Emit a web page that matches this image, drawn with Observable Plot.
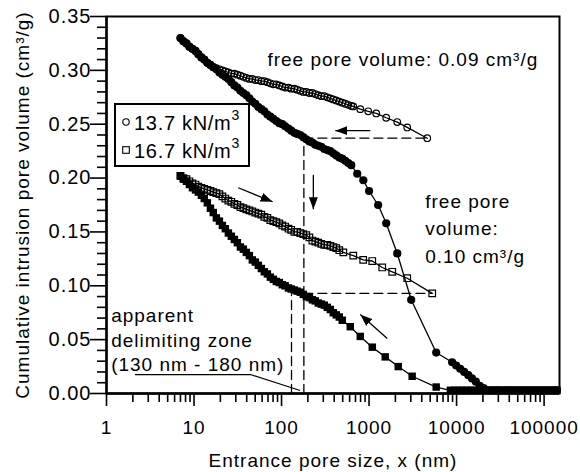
<!DOCTYPE html>
<html>
<head>
<meta charset="utf-8">
<script src="https://cdn.jsdelivr.net/npm/d3@7"></script>
<script src="https://cdn.jsdelivr.net/npm/@observablehq/plot@0.6"></script>
<style>
  body { margin: 0; background: #fff; }
  #wrap { position: relative; width: 580px; height: 472px; font-family: "Liberation Sans", Arial, Helvetica, sans-serif; }
  #legend { position: absolute; left: 114px; top: 103px; width: 132px; height: 60px; border: 2px solid #000; background: #fff; }
  #legend svg { display: block; }
</style>
</head>
<body>
<div id="wrap"><div id="chart"></div><div id="legend"></div></div>
<script>
// ---------------- data ----------------
// 13.7 kN/m3 – intrusion (filled circles)
const in137X = [7.0, 7.57, 8.2, 8.86, 9.6, 10.4, 11.2, 12.15, 13.1, 14.2, 15.4, 16.6, 18.0, 19.5, 21.1, 22.8, 24.7, 26.7, 28.9, 31.3, 33.9, 36.6, 39.6, 42.9, 46.4, 50.2, 54.3, 58.8, 63.6, 68.9, 74.5, 80.6, 87.2, 94.4, 102, 110, 120, 129, 140, 151, 164, 177, 192, 208, 225, 243, 263, 285, 308, 333, 361, 390, 422, 457, 494, 535, 579, 626, 733, 860, 1000, 1270, 1570, 2100, 3030, 5850, 8900, 9900, 11000, 12200, 13600, 15000, 16600, 18400, 20400, 22500, 25000, 28000, 31000, 35000, 39000, 43000, 48000, 54000, 60000, 67000, 75000, 84000, 94000, 105000, 117000, 130000, 140000];
const in137Y = [0.330, 0.327, 0.325, 0.322, 0.320, 0.318, 0.315, 0.312, 0.310, 0.307, 0.305, 0.303, 0.301, 0.298, 0.296, 0.294, 0.292, 0.289, 0.286, 0.284, 0.281, 0.279, 0.277, 0.274, 0.271, 0.269, 0.266, 0.264, 0.262, 0.259, 0.257, 0.255, 0.253, 0.251, 0.250, 0.248, 0.246, 0.244, 0.242, 0.241, 0.240, 0.238, 0.236, 0.234, 0.233, 0.231, 0.230, 0.229, 0.227, 0.226, 0.225, 0.223, 0.221, 0.219, 0.218, 0.216, 0.214, 0.212, 0.204, 0.198, 0.188, 0.175, 0.158, 0.130, 0.087, 0.038, 0.029, 0.026, 0.023, 0.020, 0.017, 0.014, 0.011, 0.007, 0.005, 0.003, 0.003, 0.003, 0.003, 0.003, 0.003, 0.003, 0.003, 0.003, 0.003, 0.003, 0.003, 0.003, 0.003, 0.003, 0.003, 0.003, 0.003];
// 13.7 kN/m3 – extrusion (open circles)
const ex137X = [7.0, 7.57, 8.2, 8.86, 9.6, 10.4, 11.2, 12.15, 13.1, 14.2, 15.4, 16.6, 18.0, 19.5, 21.1, 22.8, 24.7, 26.7, 28.9, 31.3, 33.9, 36.6, 39.6, 42.9, 46.4, 50.2, 54.3, 58.8, 63.6, 68.9, 74.5, 80.6, 87.2, 94.4, 102, 110, 120, 129, 140, 151, 164, 177, 192, 208, 225, 243, 263, 285, 308, 333, 361, 390, 422, 457, 494, 535, 579, 626, 660, 794, 979, 1208, 1570, 2100, 2730, 4620];
const ex137Y = [0.330, 0.327, 0.325, 0.322, 0.320, 0.318, 0.315, 0.312, 0.310, 0.307, 0.305, 0.303, 0.302, 0.301, 0.300, 0.299, 0.298, 0.297, 0.297, 0.296, 0.295, 0.294, 0.293, 0.292, 0.292, 0.291, 0.291, 0.290, 0.290, 0.289, 0.288, 0.287, 0.287, 0.286, 0.285, 0.284, 0.284, 0.283, 0.283, 0.282, 0.281, 0.280, 0.280, 0.279, 0.279, 0.278, 0.277, 0.276, 0.276, 0.275, 0.274, 0.273, 0.272, 0.271, 0.270, 0.269, 0.268, 0.267, 0.2665, 0.264, 0.262, 0.260, 0.256, 0.252, 0.247, 0.237];
// 16.7 kN/m3 – intrusion (filled squares)
const in167X = [7.0, 7.57, 8.2, 8.86, 9.6, 10.4, 11.2, 12.15, 13.1, 14.2, 15.4, 16.6, 18.0, 19.5, 21.1, 22.8, 24.7, 26.7, 28.9, 31.3, 33.9, 36.6, 39.6, 42.9, 46.4, 50.2, 54.3, 58.8, 63.6, 68.9, 74.5, 80.6, 87.2, 94.4, 102, 110, 120, 129, 140, 151, 164, 177, 192, 208, 225, 243, 263, 285, 308, 333, 361, 390, 422, 457, 494, 610, 794, 1088, 1530, 2155, 3110, 5850, 8500, 9500, 10500, 11700, 13000, 14500, 16000, 18000, 20000, 22500, 25000, 28000, 31000, 35000, 39000, 43000, 48000, 54000, 60000, 67000, 75000, 84000, 94000, 105000, 117000, 130000, 140000];
const in167Y = [0.202, 0.199, 0.197, 0.194, 0.191, 0.189, 0.187, 0.184, 0.181, 0.177, 0.172, 0.168, 0.163, 0.160, 0.156, 0.153, 0.149, 0.146, 0.143, 0.140, 0.136, 0.134, 0.131, 0.128, 0.124, 0.122, 0.119, 0.116, 0.113, 0.111, 0.108, 0.106, 0.104, 0.103, 0.101, 0.100, 0.098, 0.097, 0.096, 0.095, 0.094, 0.092, 0.090, 0.089, 0.087, 0.086, 0.084, 0.083, 0.082, 0.080, 0.078, 0.075, 0.073, 0.071, 0.068, 0.062, 0.053, 0.043, 0.034, 0.025, 0.016, 0.006, 0.003, 0.003, 0.003, 0.003, 0.003, 0.003, 0.003, 0.003, 0.003, 0.003, 0.003, 0.003, 0.003, 0.003, 0.003, 0.003, 0.003, 0.003, 0.003, 0.003, 0.003, 0.003, 0.003, 0.003, 0.003, 0.003, 0.003];
// 16.7 kN/m3 – extrusion (open squares)
const ex167X = [7.0, 7.57, 8.2, 8.86, 9.6, 10.4, 11.2, 12.15, 13.1, 14.2, 15.4, 16.6, 18.0, 19.5, 21.1, 22.8, 24.7, 26.7, 28.9, 31.3, 33.9, 36.6, 39.6, 42.9, 46.4, 50.2, 54.3, 58.8, 63.6, 68.9, 74.5, 80.6, 87.2, 94.4, 102, 110, 120, 129, 140, 151, 164, 177, 192, 208, 225, 243, 263, 285, 308, 333, 361, 390, 422, 457, 508, 660, 857, 1088, 1415, 1840, 2730, 5270];
const ex167Y = [0.202, 0.200, 0.199, 0.197, 0.195, 0.194, 0.192, 0.191, 0.190, 0.189, 0.188, 0.187, 0.186, 0.185, 0.183, 0.181, 0.179, 0.178, 0.176, 0.175, 0.173, 0.172, 0.171, 0.170, 0.169, 0.168, 0.167, 0.166, 0.164, 0.163, 0.161, 0.160, 0.159, 0.158, 0.156, 0.155, 0.153, 0.152, 0.150, 0.150, 0.149, 0.148, 0.147, 0.145, 0.142, 0.141, 0.140, 0.139, 0.138, 0.138, 0.137, 0.136, 0.135, 0.133, 0.131, 0.128, 0.124, 0.123, 0.117, 0.113, 0.107, 0.093];

// dashed guide lines
const guideX = [[180, 180], [180, 4620], [130, 130], [180, 5270]];
const guideY = [[0, 0.237], [0.237, 0.237], [0, 0.092], [0.093, 0.093]];
// leader line of "apparent delimiting zone"
const leaderX = [2.14, 44, 160];
const leaderY = [0.0176, 0.0176, 0.003];
// arrows: tail (x1,y1) -> head (x2,y2)
const arrowX1 = [1032, 231, 32, 1614];
const arrowY1 = [0.244, 0.203, 0.191, 0.051];
const arrowX2 = [411, 231, 79, 794];
const arrowY2 = [0.244, 0.171, 0.178, 0.0733];

// annotations
const noteTop = "free pore volume: 0.09 cm³/g";
const noteTopX = 68.9, noteTopY = 0.310;
const noteRight = "free pore\nvolume:\n0.10 cm³/g";
const noteRightX = 4385, noteRightY = 0.1905;
const noteLeft = "apparent\ndelimiting zone\n(130 nm - 180 nm)";
const noteLeftX = 1.13, noteLeftY = 0.0825;

// axes
const xMajor = [1, 10, 100, 1000, 10000, 100000];
const xMinor = [2,3,4,5,6,7,8,9,20,30,40,50,60,70,80,90,200,300,400,500,600,700,800,900,2000,3000,4000,5000,6000,7000,8000,9000,20000,30000,40000,50000,60000,70000,80000,90000];
const yMajor = [0, 0.05, 0.10, 0.15, 0.20, 0.25, 0.30, 0.35];
const yMinor = [0.01,0.02,0.03,0.04,0.06,0.07,0.08,0.09,0.11,0.12,0.13,0.14,0.16,0.17,0.18,0.19,0.21,0.22,0.23,0.24,0.26,0.27,0.28,0.29,0.31,0.32,0.33,0.34];
const xLabel = "Entrance pore size, x (nm)";
const yLabel = "Cumulative intrusion pore volume (cm³/g)";
const legendLabels = ["13.7 kN/m", "16.7 kN/m"];
const legendSup = ["3", "3"];
const legendSymbols = ["circle", "square"];

// ---------------- build ----------------
const pairs = (xs, ys) => xs.map((x, i) => [x, ys[i]]);
const S137i = pairs(in137X, in137Y), S137e = pairs(ex137X, ex137Y);
const S167i = pairs(in167X, in167Y), S167e = pairs(ex167X, ex167Y);
const arrows = arrowX1.map((x, i) => ({x1: x, y1: arrowY1[i], x2: arrowX2[i], y2: arrowY2[i]}));

function filledHead(color) {
  const m = d3.create("svg:marker")
    .attr("viewBox", "-12 -5 12 10")
    .attr("markerWidth", 12).attr("markerHeight", 10)
    .attr("markerUnits", "userSpaceOnUse")
    .attr("refX", 0).attr("refY", 0)
    .attr("orient", "auto")
    .attr("fill", color).attr("stroke", "none");
  m.append("path").attr("d", "M-12,-4.5L0,0L-12,4.5Z");
  return m.node();
}

const FONT = '"Liberation Sans", Arial, Helvetica, sans-serif';
const chart = Plot.plot({
  width: 580, height: 472,
  marginLeft: 106, marginRight: 21, marginTop: 16, marginBottom: 79,
  x: {type: "log", domain: [1, 150000]},
  y: {domain: [0, 0.35]},
  style: {fontFamily: FONT, fontSize: "19px", letterSpacing: "1px", color: "black", background: "white"},
  marks: [
    // curves
    Plot.line(S137i, {stroke: "black", strokeWidth: 1.3}),
    Plot.line(S137e, {stroke: "black", strokeWidth: 1.3}),
    Plot.line(S167i, {stroke: "black", strokeWidth: 1.3}),
    Plot.line(S167e, {stroke: "black", strokeWidth: 1.3}),
    // dashed guides
    ...guideX.map((gx, i) => Plot.line(pairs(gx, guideY[i]), {stroke: "black", strokeWidth: 1.3, strokeDasharray: "9,5"})),
    // leader line
    Plot.line(pairs(leaderX, leaderY), {stroke: "black", strokeWidth: 1.2}),
    // arrows
    Plot.link(arrows, {x1: "x1", y1: "y1", x2: "x2", y2: "y2", stroke: "black", strokeWidth: 1.3, markerEnd: filledHead}),
    // markers
    Plot.dot(S137e, {r: 3.3, stroke: "black", strokeWidth: 1.2, fill: "none"}),
    Plot.dot(S167e, {r: 3.7, symbol: "square", stroke: "black", strokeWidth: 1.2, fill: "none"}),
    Plot.dot(S137i, {r: 4.1, fill: "black", stroke: "none"}),
    Plot.dot(S167i, {r: 4.2, symbol: "square", fill: "black", stroke: "none"}),
    // axes
    Plot.axisX(xMajor, {tickSize: 13, tickPadding: 14, tickFormat: d3.format("d"), label: null, strokeWidth: 1.6}),
    Plot.axisX(xMinor, {tickSize: 9, tickFormat: () => "", label: null, strokeWidth: 1.6}),
    Plot.axisY(yMajor, {tickSize: 16, tickPadding: -1, tickFormat: d3.format(".2f"), label: null, strokeWidth: 1.6, fontSize: 20, style: {letterSpacing: "2.2px"}}),
    Plot.axisY(yMinor, {tickSize: 9, tickFormat: () => "", label: null, strokeWidth: 1.6}),
    Plot.frame({stroke: "black", strokeWidth: 2}),
    Plot.ruleY([0], {stroke: "black", strokeWidth: 2.4}),
    Plot.ruleX([1], {stroke: "black", strokeWidth: 2.4}),
    // axis titles
    Plot.text([xLabel], {frameAnchor: "bottom", textAnchor: "middle", lineAnchor: "middle", dy: 67}),
    Plot.text([yLabel], {frameAnchor: "left", textAnchor: "middle", lineAnchor: "middle", rotate: -90, dx: -84}),
    // annotations
    Plot.text([noteTop], {x: () => noteTopX, y: () => noteTopY, textAnchor: "start", lineAnchor: "middle"}),
    Plot.text([noteRight], {x: () => noteRightX, y: () => noteRightY, textAnchor: "start", lineAnchor: "top", lineHeight: 1.45}),
    Plot.text([noteLeft], {x: () => noteLeftX, y: () => noteLeftY, textAnchor: "start", lineAnchor: "top", lineHeight: 1.29})
  ]
});
document.getElementById("chart").appendChild(chart);

// legend (inside the plot frame, as in the reference)
const lg = d3.select("#legend").append("svg").attr("width", 132).attr("height", 60)
  .style("font-family", FONT).style("font-size", "20px").style("letter-spacing", "0.7px");
legendLabels.forEach((lab, i) => {
  const cy = 17 + i * 28;
  if (legendSymbols[i] === "circle") {
    lg.append("circle").attr("cx", 10).attr("cy", cy).attr("r", 3.2).attr("fill", "white").attr("stroke", "black").attr("stroke-width", 1.1);
  } else {
    lg.append("rect").attr("x", 6.7).attr("y", cy - 3.3).attr("width", 6.6).attr("height", 6.6).attr("fill", "white").attr("stroke", "black").attr("stroke-width", 1.1);
  }
  const t = lg.append("text").attr("x", 18).attr("y", cy + 7.5).attr("fill", "black").text(lab);
  t.append("tspan").attr("dy", -10).attr("font-size", "14px").text(legendSup[i]);
});
</script>
</body>
</html>
